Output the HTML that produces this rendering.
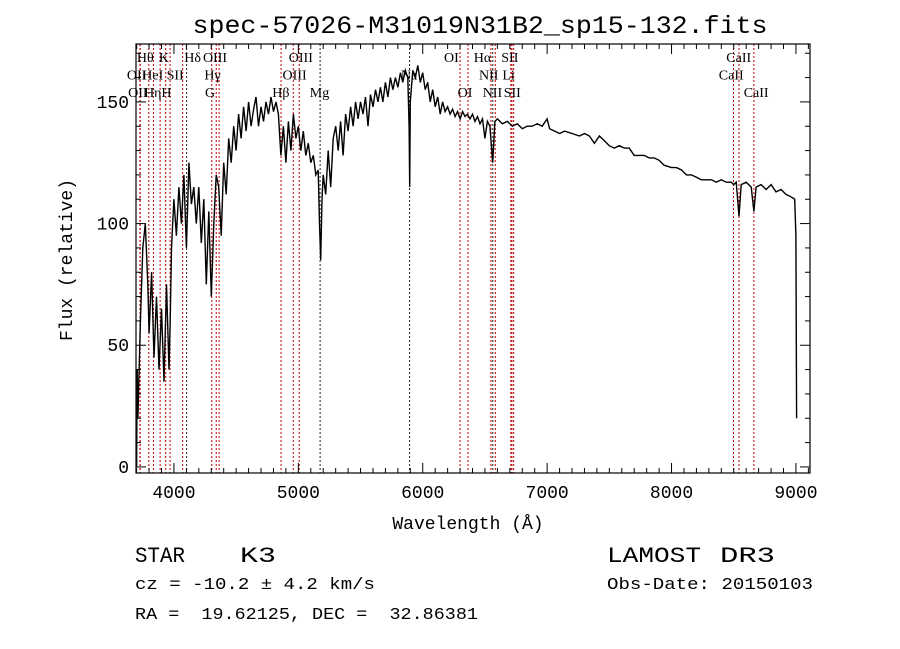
<!DOCTYPE html>
<html><head><meta charset="utf-8"><style>
html,body{margin:0;padding:0;background:#fff;}
svg{display:block;font-family:"Liberation Mono",monospace;}
svg text{white-space:pre;}
</style></head><body>
<svg id="chart" width="900" height="649" viewBox="0 0 900 649" xmlns="http://www.w3.org/2000/svg">
<rect width="900" height="649" fill="#fff"/>
<text x="480" y="33" font-size="25" text-anchor="middle" textLength="575" lengthAdjust="spacingAndGlyphs">spec-57026-M31019N31B2_sp15-132.fits</text>
<g id="lines"></g>
<g id="labels" font-family="'Liberation Serif',serif" font-size="14"></g>
<path id="spec" fill="none" stroke="#000" stroke-width="1.4"/>
<rect x="136" y="44" width="674" height="429" fill="none" stroke="#000" stroke-width="1.2"/>
<g id="axes" stroke="#000" stroke-width="1"></g>
<g id="ticklabels" font-size="18"></g>
<text x="468" y="529" font-size="18" text-anchor="middle">Wavelength (Å)</text>
<text transform="translate(72,260) rotate(-90)" font-size="18" text-anchor="middle">Flux (relative)</text>
<text x="135" y="562" font-size="22" textLength="50" lengthAdjust="spacingAndGlyphs">STAR</text>
<text x="240" y="562" font-size="22" textLength="36" lengthAdjust="spacingAndGlyphs">K3</text>
<text x="135" y="589" font-size="17" textLength="240" lengthAdjust="spacingAndGlyphs">cz = -10.2 ± 4.2 km/s</text>
<text x="135" y="619" font-size="17" textLength="343" lengthAdjust="spacingAndGlyphs">RA =  19.62125, DEC =  32.86381</text>
<text x="607" y="562" font-size="22" textLength="94" lengthAdjust="spacingAndGlyphs">LAMOST</text>
<text x="720" y="562" font-size="22" textLength="55" lengthAdjust="spacingAndGlyphs">DR3</text>
<text x="607" y="589" font-size="17" textLength="206" lengthAdjust="spacingAndGlyphs">Obs-Date: 20150103</text>
</svg>
<script>
const wave = [3700,3705,3710,3730,3750,3770,3790,3800,3820,3840,3860,3880,3900,3920,3940,3960,3970,3980,4000,4020,4040,4060,4080,4100,4120,4140,4160,4180,4200,4220,4240,4260,4280,4300,4320,4340,4360,4380,4400,4420,4440,4460,4480,4500,4520,4540,4560,4580,4600,4620,4640,4660,4680,4700,4720,4740,4760,4780,4800,4820,4840,4860,4880,4900,4920,4940,4960,4980,5000,5020,5040,5060,5080,5100,5120,5140,5160,5170,5180,5190,5200,5220,5240,5260,5280,5300,5320,5340,5360,5380,5400,5420,5440,5460,5480,5500,5520,5540,5560,5580,5600,5620,5640,5660,5680,5700,5720,5740,5760,5780,5800,5820,5840,5860,5880,5890,5895,5900,5920,5940,5960,5980,6000,6020,6040,6060,6080,6100,6120,6140,6160,6180,6200,6220,6240,6260,6280,6300,6320,6340,6360,6380,6400,6420,6440,6460,6480,6500,6520,6540,6562,6580,6600,6640,6680,6720,6760,6800,6840,6880,6920,6960,7000,7020,7060,7100,7140,7200,7260,7300,7340,7380,7420,7460,7500,7540,7580,7620,7660,7700,7740,7780,7820,7860,7900,7940,8000,8040,8080,8120,8160,8200,8240,8280,8320,8360,8400,8440,8480,8500,8520,8542,8560,8600,8640,8662,8680,8720,8760,8800,8840,8880,8920,8960,8990,9000,9005];
const flux = [0,40,20,60,90,100,75,55,80,45,70,40,65,35,75,40,60,90,110,95,115,100,120,90,125,108,115,100,115,92,110,75,105,70,100,120,115,95,125,112,135,125,140,130,145,135,148,138,150,140,147,152,140,148,142,150,145,152,146,150,145,128,140,125,142,130,145,135,140,130,138,128,133,125,128,120,122,100,85,110,120,112,130,115,135,140,130,142,128,145,138,148,140,150,143,150,145,152,140,153,148,155,150,156,150,158,152,160,155,160,156,162,158,163,160,140,115,150,163,160,165,158,162,155,158,150,155,148,152,145,150,146,148,145,147,144,146,143,146,144,145,143,145,142,144,141,143,135,142,140,125,142,143,141,142,140,141,139,140,140,141,140,143,139,138,137,138,137,136,137,136,133,136,134,132,131,132,131,131,128,128,128,127,127,126,124,123,123,122,120,120,119,118,118,118,117,118,117,117,116,117,103,116,117,115,105,115,116,114,116,113,114,112,111,110,95,20];
const lineWaves = [3727,3729,3798,3835,3889,3934,3969,4070,4102,4304,4340,4363,4861,4959,5007,5175,5894,6300,6364,6548,6563,6583,6708,6717,6731,8498,8542,8662];
const lineColors = ["r","r","r","r","r","r","r","r","k","r","r","r","r","r","r","k","k","r","r","r","k","r","r","r","r","r","r","r"];
const labelText = ["Hθ","K","Hδ","OIII","OIII","OI","Hα","SII","CaII","OII","HeI","SII","Hγ","OIII","Na","NII","Li","CaII","OII","Hη","H","G","Hβ","Mg","OI","NII","SII","CaII"];
const labelWave = [3770,3920,4150,4330,5020,6230,6480,6700,8540,3700,3830,4010,4310,4970,5890,6530,6690,8480,3710,3830,3940,4290,4860,5170,6340,6560,6720,8680];
const labelRow = [0,0,0,0,0,0,0,0,0,1,1,1,1,1,1,1,1,1,2,2,2,2,2,2,2,2,2,2];
const xTicks = [4000,5000,6000,7000,8000,9000];
const yTicks = [0,50,100,150];

const X0=136,X1=810,Y0=473,Y1=44, WMIN=3695, WMAX=9113, FMIN=-2.5, FMAX=173.8;
const xs = w => X0 + (w-WMIN)/(WMAX-WMIN)*(X1-X0);
const ys = f => Y0 - (f-FMIN)/(FMAX-FMIN)*(Y0-Y1);
const NS="http://www.w3.org/2000/svg";
function mk(tag, attrs, parent){const e=document.createElementNS(NS,tag);for(const k in attrs)e.setAttribute(k,attrs[k]);parent.appendChild(e);return e;}

const lg=document.getElementById('lines');
lineWaves.forEach((w,i)=>{
  const l=mk('line',{x1:xs(w),x2:xs(w),y1:Y1,y2:Y0,stroke:lineColors[i]==="r"?"#c00000":"#222","stroke-width":1,"stroke-dasharray":"2,2"},lg);
  
  
});
const lb=document.getElementById('labels');
labelText.forEach((t,i)=>{
  const e=mk('text',{x:xs(labelWave[i]),y:62+labelRow[i]*17.5,"text-anchor":"middle"},lb);
  e.textContent=t;
  
  
});
let d="";
wave.forEach((w,i)=>{ const x=xs(w).toFixed(1), y=ys(flux[i]).toFixed(1); d += (i?"L":"M")+x+","+y; });
document.getElementById('spec').setAttribute('d',d);

const ax=document.getElementById('axes');
for(let w=3700; w<=9100; w+=100){
  const major = w%1000===0, len = major?10:5;
  mk('line',{x1:xs(w),x2:xs(w),y1:Y0,y2:Y0-len},ax);
  mk('line',{x1:xs(w),x2:xs(w),y1:Y1,y2:Y1+len},ax);
}
for(let f=0; f<=170; f+=10){
  const major = f%50===0, len = major?10:5;
  mk('line',{x1:X0,x2:X0+len,y1:ys(f),y2:ys(f)},ax);
  mk('line',{x1:X1,x2:X1-len,y1:ys(f),y2:ys(f)},ax);
}
const tl=document.getElementById('ticklabels');
xTicks.forEach(w=>{
  const e=mk('text',{x:xs(w),y:Y0+25,"text-anchor":"middle"},tl); e.textContent=w;
  
  
});
yTicks.forEach(f=>{
  const e=mk('text',{x:X0-7,y:ys(f)+6,"text-anchor":"end"},tl); e.textContent=f;
  
  
});
</script>
</body></html>
